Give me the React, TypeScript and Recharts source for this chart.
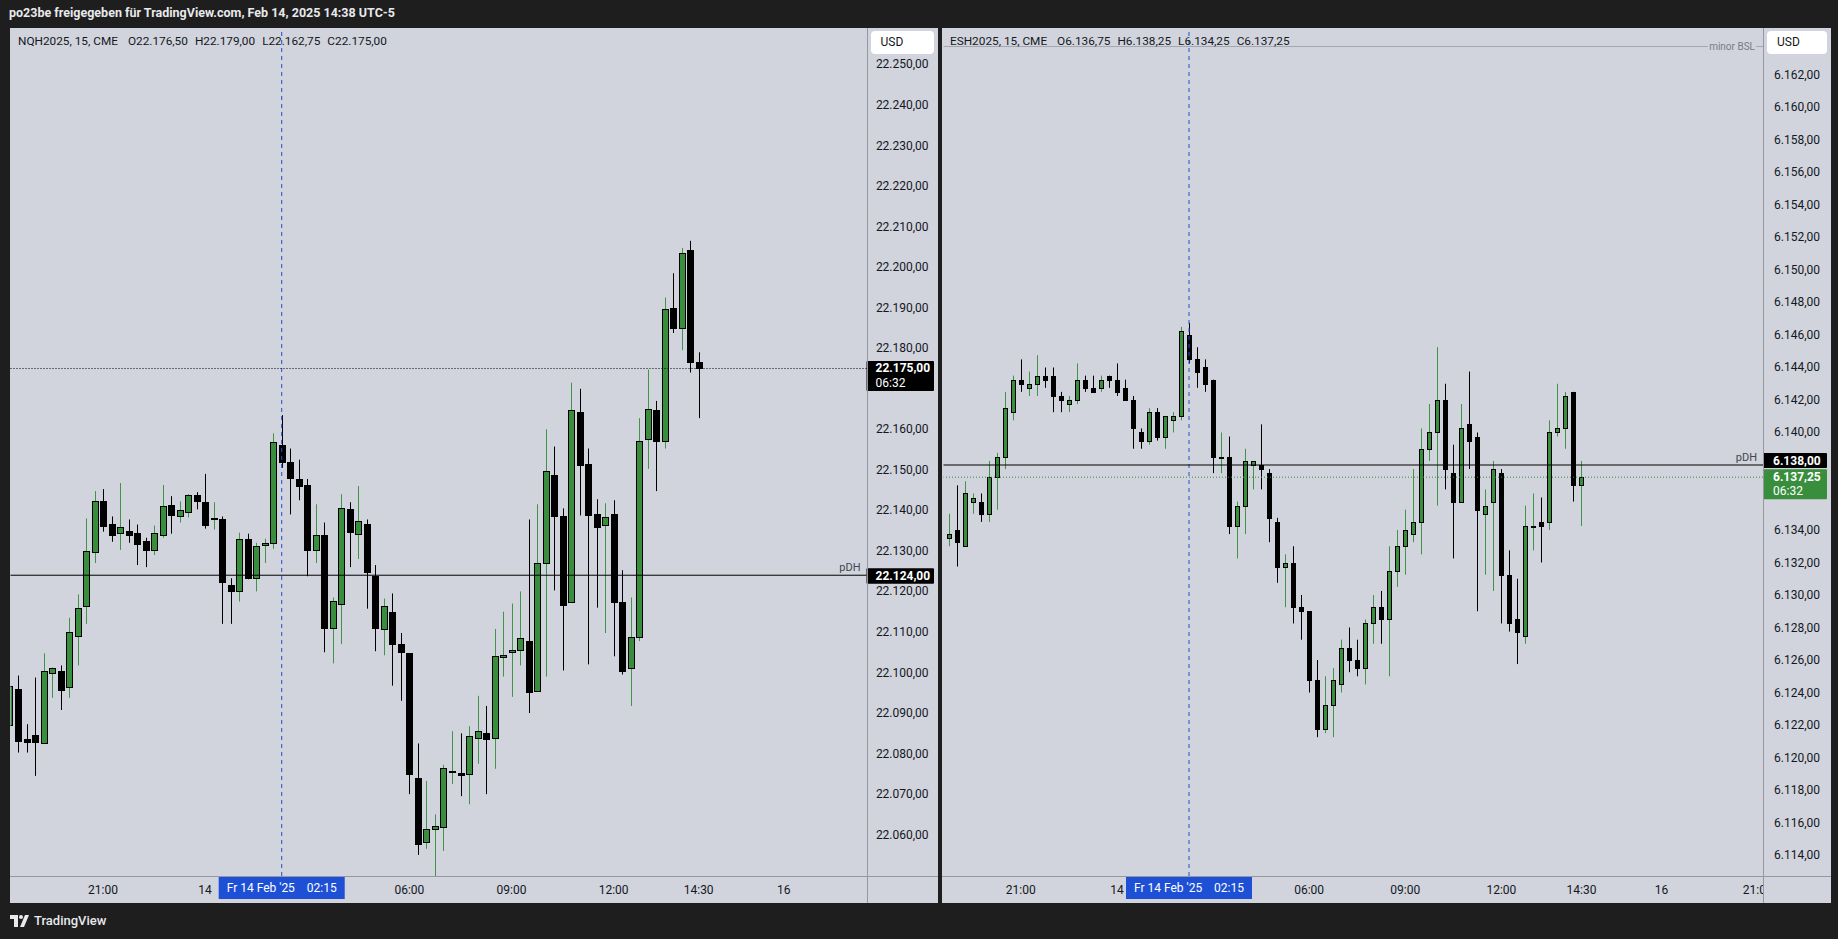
import React from "react";
import { ComposedChart, Bar, XAxis, YAxis, ReferenceLine } from "recharts";

// NQH2025 15m, first bar is 18:15 (cut off at left edge)
const nqFirstSlot = -1;
const nqOpen = [
  22087, 22096, 22083.5, 22084.5, 22082.5, 22100, 22100.25, 22096.5, 22109, 22116.5,
  22129.75, 22142.25, 22136.75, 22134.5, 22135, 22134.5, 22132.5, 22130.25, 22134, 22141.25,
  22138.5, 22139.5, 22143.75, 22142, 22137.75, 22137.75, 22121.5, 22120, 22133, 22123.25,
  22131.5, 22132, 22156.25, 22152, 22147.75, 22146.25, 22130.25, 22134, 22111, 22117,
  22140.25, 22134.25, 22136.75, 22123.75, 22110.75, 22115, 22107, 22104.75, 22074, 22058.25,
  22061.5, 22062, 22075.5, 22075.25, 22075, 22083.75, 22085, 22083.75, 22103.75, 22105,
  22105.5, 22107.75, 22095.5, 22127, 22148.75, 22138.5, 22117.5, 22164.25, 22151.5, 22139,
  22136.5, 22139, 22117.5, 22101, 22108.75, 22157.5, 22164.75, 22157, 22190, 22185,
  22204.25, 22176.5,
];
const nqHigh = [
  22103, 22099.25, 22087.25, 22098.75, 22104.75, 22101.25, 22101.75, 22113.5, 22119.25, 22138,
  22144.75, 22145.25, 22138.5, 22146.75, 22137.75, 22136.5, 22133.25, 22136.25, 22146.25, 22143.5,
  22142.25, 22144, 22144.5, 22149, 22142, 22138.5, 22123.25, 22134.5, 22134.25, 22132,
  22133, 22159, 22163.5, 22155.25, 22152.5, 22147.75, 22141.5, 22137, 22118.5, 22144,
  22142, 22146, 22137.75, 22126.5, 22118.25, 22119.5, 22109.75, 22104.75, 22082.5, 22073.25,
  22065, 22077.25, 22085.5, 22085, 22086.75, 22094.25, 22091.75, 22110.75, 22115, 22117,
  22120, 22137.75, 22141.5, 22160, 22155.75, 22140.5, 22171.5, 22170, 22155.25, 22142.75,
  22141.75, 22142.5, 22125.25, 22118.5, 22162.75, 22174.75, 22167, 22192.5, 22198.5, 22204.75,
  22206.5, 22179,
];
const nqLow = [
  22082.25, 22080.25, 22080.25, 22074.5, 22082.5, 22093.75, 22090.75, 22093.75, 22101.75, 22112,
  22127, 22134.75, 22132.25, 22130.25, 22132, 22126.5, 22126, 22129, 22133.25, 22134.25,
  22137, 22138.25, 22140.25, 22135.5, 22135.25, 22112, 22112, 22117.5, 22123, 22120,
  22127, 22130.5, 22150.5, 22139, 22142.5, 22123.75, 22127, 22105, 22102.25, 22107,
  22126, 22128, 22115.75, 22105.25, 22104.25, 22096.75, 22093, 22070, 22055, 22056.5,
  22049.5, 22056, 22072.5, 22069.5, 22067.5, 22077.5, 22070, 22076.25, 22099, 22094,
  22101.75, 22090, 22095.5, 22099, 22120.25, 22100.5, 22117.5, 22138.75, 22102, 22116,
  22109.75, 22104, 22099.5, 22091.75, 22107.75, 22150.25, 22144.75, 22155.25, 22183.75, 22179.5,
  22174, 22162.75,
];
const nqClose = [
  22096.75, 22083, 22082.75, 22082.75, 22100.25, 22101, 22095.75, 22110, 22116, 22130,
  22142.25, 22136.25, 22134, 22136, 22134, 22131.75, 22130.25, 22134.5, 22141, 22138.75,
  22140, 22143.75, 22142.25, 22136.5, 22138, 22122.25, 22120, 22133, 22123.25, 22131.25,
  22132, 22156.75, 22152, 22148, 22146, 22130.25, 22134, 22111, 22117.75, 22140.5,
  22134.75, 22137.5, 22124.75, 22111, 22116.5, 22107, 22105, 22075, 22057.75, 22061.5,
  22062.25, 22076.5, 22075.75, 22074.75, 22084.25, 22085.5, 22083.5, 22104, 22104.25, 22105.5,
  22108.5, 22095.25, 22127, 22149.75, 22138.5, 22116.75, 22164.75, 22151.25, 22138.75, 22136,
  22138.25, 22117.5, 22100.25, 22108.75, 22157, 22165, 22157, 22189.75, 22185, 22203.5,
  22176.5, 22175,
];

// ESH2025 15m, first bar is 18:30 (cut off at left edge)
const esFirstSlot = 0;
const esOpen = [
  6136, 6133.5, 6134, 6133, 6135.75, 6135.75, 6135, 6137.25, 6138.5, 6141.25,
  6143.25, 6142.75, 6143, 6143.5, 6143.5, 6142.25, 6141.75, 6142, 6143.25, 6142.75,
  6142.75, 6143.5, 6143.25, 6142.75, 6142, 6140, 6139.5, 6141.25, 6139.75, 6140.75,
  6141, 6146, 6144.5, 6144, 6143.25, 6138.5, 6138.5, 6134.25, 6135.5, 6138,
  6138, 6137.5, 6134.5, 6131.75, 6132, 6129.25, 6129, 6124.75, 6121.75, 6123.25,
  6124.5, 6126.75, 6126, 6125.5, 6128.25, 6129.25, 6128.5, 6131.5, 6133, 6133.75,
  6134.5, 6139, 6140, 6142, 6137.5, 6135.75, 6140.5, 6139.75, 6135, 6135.75,
  6137.5, 6131.25, 6128.5, 6127.5, 6134.25, 6134.5, 6134.5, 6140, 6140.25, 6142.5,
  6136.75,
];
const esHigh = [
  6136.5, 6135, 6136.75, 6137, 6136.25, 6136.25, 6138.25, 6138.75, 6142.5, 6143.5,
  6144.5, 6143.75, 6144.75, 6144, 6144, 6142.5, 6142.25, 6144.25, 6143.5, 6143.5,
  6143.5, 6143.5, 6144.25, 6143.25, 6142.25, 6140.25, 6141.5, 6141.5, 6141, 6141.25,
  6146.5, 6146.75, 6145.25, 6144.5, 6143.25, 6140, 6139.75, 6135.75, 6139, 6138.25,
  6140.5, 6137.75, 6134.75, 6132.5, 6133, 6130, 6129, 6126, 6125, 6125.5,
  6127.25, 6128, 6127.25, 6128.5, 6130, 6130.25, 6133, 6134, 6135.25, 6137.75,
  6140.25, 6141.75, 6145.25, 6143, 6139.25, 6141.75, 6143.75, 6140, 6136.5, 6138.25,
  6137.75, 6132.75, 6131, 6135.5, 6136.25, 6136, 6140.75, 6143, 6142.5, 6142.5,
  6138.25,
];
const esLow = [
  6133.25, 6133, 6131.75, 6133, 6135, 6134.5, 6134.5, 6135.25, 6137.75, 6140.75,
  6142.5, 6142.25, 6142.25, 6142.75, 6141.25, 6141.25, 6141.25, 6141.75, 6142.5, 6142.5,
  6142.5, 6142.75, 6142.25, 6142, 6139, 6139, 6139.25, 6139.5, 6139, 6140,
  6140.75, 6144.25, 6142.75, 6142.5, 6137.5, 6137.5, 6133.75, 6132.25, 6133.75, 6136.5,
  6136.5, 6133.25, 6130.75, 6129.25, 6128.25, 6127.25, 6124, 6121.25, 6121.5, 6121.25,
  6124, 6125.25, 6125, 6124.5, 6127, 6127, 6125, 6130.5, 6131.25, 6133.25,
  6132.5, 6138.25, 6135.5, 6136.5, 6132.25, 6135.75, 6137.75, 6129, 6131.25, 6130.25,
  6128.25, 6127.75, 6125.75, 6127, 6132.75, 6132, 6134, 6139.75, 6139, 6135.75,
  6134.25,
];
const esClose = [
  6133.75, 6133.75, 6133.25, 6136.25, 6136, 6135, 6137.25, 6138.5, 6141.5, 6143.25,
  6143, 6143, 6143.5, 6143.25, 6142.25, 6142, 6142, 6143.25, 6142.75, 6142.5,
  6143.25, 6143.25, 6142.5, 6142, 6140.25, 6139.5, 6141.25, 6139.75, 6141, 6141,
  6146.25, 6144.5, 6143.75, 6143, 6138.5, 6138.5, 6134.25, 6135.5, 6138.25, 6138.25,
  6137.75, 6134.75, 6131.75, 6132, 6129.25, 6129, 6124.75, 6121.75, 6123.25, 6124.75,
  6126.75, 6126, 6125.5, 6128.25, 6129.25, 6128.5, 6131.5, 6133, 6134, 6134.5,
  6139, 6140, 6142, 6137.75, 6135.75, 6140.25, 6139.5, 6135.25, 6135.5, 6137.75,
  6131.25, 6128.25, 6127.75, 6134.25, 6134.25, 6134.25, 6140, 6140.25, 6142.25, 6136.75,
  6137.25,
];

// bar slots: 0 = 18:30 on Feb 13, one slot per 15 minutes
const timeSlots = [10, 22, 46, 58, 70, 80, 90, 102];
const timeLabels = ["21:00", "14", "06:00", "09:00", "12:00", "14:30", "16", "21:00"];
const crosshairSlot = 31;
const crosshairDate = "Fr 14 Feb '25";
const crosshairTime = "02:15";

const nqPriceTicks = [
  22060, 22070, 22080, 22090, 22100, 22110, 22120, 22130, 22140, 22150,
  22160, 22180, 22190, 22200, 22210, 22220, 22230, 22240, 22250,
];
const esPriceTicks = [
  6114, 6116, 6118, 6120, 6122, 6124, 6126, 6128, 6130, 6132, 6134,
  6140, 6142, 6144, 6146, 6148, 6150, 6152, 6154, 6156, 6158, 6160, 6162,
];

const nqPrevDayHigh = 22124;
const esPrevDayHigh = 6138;
const esMinorBsl = 6163.75;
const barCountdown = "06:32";

const PANEL_BG = "#d1d4dc";
const BODY_UP = "#388e3c";
const WICK_UP = "#3f9445";
const MARK_BLUE = "#1e50d6";
const AXIS_LINE = "#9598a1";
const TEXT = "#131722";
const FONT = "Roboto, 'Liberation Sans', sans-serif";

type Row = { slot: number; open: number; high: number; low: number; close: number };

function buildRows(first: number, o: number[], h: number[], l: number[], c: number[]): Row[] {
  return o.map((v, k) => ({ slot: first + k, open: v, high: h[k], low: l[k], close: c[k] }));
}

const nqRows = buildRows(nqFirstSlot, nqOpen, nqHigh, nqLow, nqClose);
const esRows = buildRows(esFirstSlot, esOpen, esHigh, esLow, esClose);

function fmtPrice(v: number) {
  const [int, dec] = v.toFixed(2).split(".");
  return int.replace(/\B(?=(\d{3})+(?!\d))/g, ".") + "," + dec;
}

function Candle(props: any) {
  const { x, y, width, height, payload, half } = props;
  if (!payload || x == null || y == null) return null;
  let top = y;
  let h = height;
  if (h < 0) {
    top = y + h;
    h = -h;
  }
  const { open, high, low, close } = payload;
  const span = high - low;
  const py = (v: number) => (span > 0 ? top + ((high - v) / span) * h : top);
  const c = Math.round(x + width / 2);
  const up = close >= open;
  const yo = py(open);
  const yc = py(close);
  const bTop = Math.round(Math.min(yo, yc)) + 0.5;
  const bBot = Math.max(Math.round(Math.max(yo, yc)) + 0.5, bTop + 1);
  return (
    <g>
      <line x1={c + 0.5} x2={c + 0.5} y1={top} y2={top + h} stroke={up ? WICK_UP : "#000"} strokeWidth={1} />
      <rect
        x={c - half + 0.5}
        y={bTop}
        width={half * 2}
        height={bBot - bTop}
        fill={up ? BODY_UP : "#000"}
        stroke="#000"
        strokeWidth={1}
      />
    </g>
  );
}

function TimeTick(props: any) {
  const { x, y, payload, clipRight, uid } = props;
  const v = payload.value;
  if (v === crosshairSlot) {
    return (
      <g>
        <rect x={x - 63} y={y} width={126} height={23} fill={MARK_BLUE} />
        <text x={x - 55} y={y + 12} dominantBaseline="central" fontSize={12} fill="#fff" fontFamily={FONT}>
          {crosshairDate}
        </text>
        <text x={x + 55} y={y + 12} textAnchor="end" dominantBaseline="central" fontSize={12} fill="#fff" fontFamily={FONT}>
          {crosshairTime}
        </text>
      </g>
    );
  }
  const idx = timeSlots.indexOf(v);
  const id = `tclip-${uid}-${v}`;
  return (
    <g>
      <defs>
        <clipPath id={id}>
          <rect x={0} y={y} width={clipRight} height={30} />
        </clipPath>
      </defs>
      <text
        x={x}
        y={y + 14}
        textAnchor="middle"
        dominantBaseline="central"
        fontSize={12}
        fill={TEXT}
        fontFamily={FONT}
        clipPath={`url(#${id})`}
      >
        {timeLabels[idx]}
      </text>
    </g>
  );
}

function PriceTick(props: any) {
  const { x, y, payload, axisW } = props;
  return (
    <text
      x={x + axisW / 2}
      y={y}
      textAnchor="middle"
      dominantBaseline="central"
      fontSize={12}
      fill={TEXT}
      fontFamily={FONT}
    >
      {fmtPrice(payload.value)}
    </text>
  );
}

function PriceTag(props: any) {
  const { viewBox, axisW, pad, rows, bg, dy, h, note } = props;
  if (!viewBox) return null;
  const y = viewBox.y + (viewBox.height || 0) / 2;
  const x0 = viewBox.x + viewBox.width;
  return (
    <g fontFamily={FONT}>
      {note ? (
        <text x={x0 - 6} y={y - 8} textAnchor="end" dominantBaseline="central" fontSize={11} fill="#434651">
          {note}
        </text>
      ) : null}
      <rect x={x0} y={y + dy} width={axisW - 4} height={h} fill={bg} rx={1} />
      {rows.map((r: string, k: number) => (
        <text
          key={k}
          x={x0 + pad}
          y={y + dy + 7.5 + k * 14.5}
          dominantBaseline="central"
          fontSize={12}
          fontWeight={k === 0 ? 700 : 400}
          fill="#fff"
        >
          {r}
        </text>
      ))}
    </g>
  );
}

function BslTag(props: any) {
  const { viewBox } = props;
  if (!viewBox) return null;
  const y = viewBox.y + (viewBox.height || 0) / 2;
  const x1 = viewBox.x + viewBox.width;
  return (
    <g fontFamily={FONT}>
      <rect x={x1 - 55} y={y - 6} width={48} height={12} fill={PANEL_BG} />
      <text x={x1 - 8} y={y} textAnchor="end" dominantBaseline="central" fontSize={10} fill="#787b86">
        minor BSL
      </text>
    </g>
  );
}

type PanelProps = {
  uid: string;
  left: number;
  width: number;
  axisW: number;
  marginLeft: number;
  rows: Row[];
  xDomain: [number, number];
  yDomain: [number, number];
  priceTicks: number[];
  slots: number[];
  half: number;
  header: string[];
  children?: React.ReactNode;
};

const PANEL_TOP = 28;
const PANEL_H = 875;
const TIME_H = 27;

function Panel(p: PanelProps) {
  const plotRight = p.width - p.axisW;
  return (
    <div
      style={{
        position: "absolute",
        left: p.left,
        top: PANEL_TOP,
        width: p.width,
        height: PANEL_H,
        background: PANEL_BG,
        overflow: "hidden",
      }}
    >
      <ComposedChart
        width={p.width}
        height={PANEL_H}
        data={p.rows}
        margin={{ top: 0, right: 0, bottom: 0, left: p.marginLeft }}
      >
        <XAxis
          type="number"
          dataKey="slot"
          domain={p.xDomain}
          allowDataOverflow
          ticks={p.slots}
          interval={0}
          height={TIME_H}
          tickLine={false}
          axisLine={false}
          tickSize={0}
          tickMargin={0}
          tick={<TimeTick clipRight={plotRight} uid={p.uid} />}
        />
        <YAxis
          orientation="right"
          type="number"
          domain={p.yDomain}
          allowDataOverflow
          ticks={p.priceTicks}
          interval={0}
          width={p.axisW}
          tickLine={false}
          axisLine={false}
          tickSize={0}
          tickMargin={0}
          tick={<PriceTick axisW={p.axisW} />}
        />
        <ReferenceLine x={crosshairSlot} stroke={MARK_BLUE} strokeDasharray="4 4" strokeWidth={1} />
        {p.children}
        <Bar
          dataKey={(d: Row) => [d.low, d.high]}
          isAnimationActive={false}
          shape={(s: any) => <Candle {...s} half={p.half} />}
        />
      </ComposedChart>
      <div style={{ position: "absolute", left: plotRight, top: 0, width: 1, height: PANEL_H, background: AXIS_LINE }} />
      <div
        style={{ position: "absolute", left: 0, top: PANEL_H - TIME_H, width: p.width, height: 1, background: AXIS_LINE }}
      />
      <div
        style={{
          position: "absolute",
          left: 8,
          top: 6,
          fontFamily: FONT,
          fontSize: 11.8,
          color: TEXT,
          whiteSpace: "pre",
          display: "flex",
          gap: 7,
        }}
      >
        {p.header.map((t, k) => (
          <span key={k} style={{ marginLeft: k === 1 ? 3 : 0 }}>
            {t}
          </span>
        ))}
      </div>
      <div
        style={{
          position: "absolute",
          left: plotRight + 4,
          top: 3,
          width: p.axisW - 8,
          height: 23,
          background: "#fff",
          borderRadius: 4,
          fontFamily: FONT,
          fontSize: 12,
          color: TEXT,
          lineHeight: "23px",
          paddingLeft: 10,
          boxSizing: "border-box",
        }}
      >
        USD
      </div>
    </div>
  );
}

export default function App() {
  return (
    <div
      style={{
        position: "fixed",
        left: 0,
        top: 0,
        width: 1838,
        height: 939,
        background: "#1e1e1e",
        overflow: "hidden",
      }}
    >
      <div
        style={{
          position: "absolute",
          left: 9,
          top: 5,
          fontFamily: FONT,
          fontSize: 12.5,
          fontWeight: 700,
          color: "#e8e9ec",
        }}
      >
        po23be freigegeben für TradingView.com, Feb 14, 2025 14:38 UTC-5
      </div>

      <Panel
        uid="nq"
        left={10}
        width={928}
        axisW={71.5}
        marginLeft={0.5}
        rows={nqRows}
        xDomain={[-0.87, 99.72]}
        yDomain={[22049.8, 22259.0]}
        priceTicks={nqPriceTicks}
        slots={[...timeSlots.slice(0, 7), crosshairSlot].sort((a, b) => a - b)}
        half={3}
        header={["NQH2025, 15, CME", "O22.176,50", "H22.179,00", "L22.162,75", "C22.175,00"]}
      >
        <ReferenceLine
          y={nqPrevDayHigh}
          stroke="#000"
          strokeWidth={1}
          label={(lp: any) => (
            <PriceTag {...lp} axisW={71.5} pad={9} rows={[fmtPrice(nqPrevDayHigh)]} bg="#000" dy={-7} h={15.5} note="pDH" />
          )}
        />
        <ReferenceLine
          y={nqClose[nqClose.length - 1]}
          stroke="#000"
          strokeDasharray="1 2"
          strokeWidth={1}
          label={(lp: any) => (
            <PriceTag
              {...lp}
              axisW={71.5}
              pad={9}
              rows={[fmtPrice(nqClose[nqClose.length - 1]), barCountdown]}
              bg="#000"
              dy={-7.5}
              h={30}
            />
          )}
        />
      </Panel>

      <Panel
        uid="es"
        left={942}
        width={889}
        axisW={68}
        marginLeft={1.5}
        rows={esRows}
        xDomain={[0.35, 102.66]}
        yDomain={[6112.71, 6164.89]}
        priceTicks={esPriceTicks}
        slots={[...timeSlots, crosshairSlot].sort((a, b) => a - b)}
        half={2}
        header={["ESH2025, 15, CME", "O6.136,75", "H6.138,25", "L6.134,25", "C6.137,25"]}
      >
        <ReferenceLine
          y={esMinorBsl}
          stroke="#a3a6af"
          strokeWidth={1}
          label={(lp: any) => <BslTag {...lp} />}
        />
        <ReferenceLine
          y={esPrevDayHigh}
          stroke="#000"
          strokeWidth={1}
          label={(lp: any) => (
            <PriceTag {...lp} axisW={68} pad={10} rows={[fmtPrice(esPrevDayHigh)]} bg="#000" dy={-12} h={15} note="pDH" />
          )}
        />
        <ReferenceLine
          y={esClose[esClose.length - 1]}
          stroke={BODY_UP}
          strokeDasharray="1 2"
          strokeWidth={1}
          label={(lp: any) => (
            <PriceTag
              {...lp}
              axisW={68}
              pad={10}
              rows={[fmtPrice(esClose[esClose.length - 1]), barCountdown]}
              bg={BODY_UP}
              dy={-8}
              h={30}
            />
          )}
        />
      </Panel>

      <div style={{ position: "absolute", left: 10, top: 913, display: "flex", alignItems: "center", gap: 5 }}>
        <svg width={19} height={14} viewBox="0 0 19 14">
          <rect x={0} y={1} width={8} height={4} fill="#e8e9ec" />
          <rect x={4} y={1} width={4} height={12} fill="#e8e9ec" />
          <circle cx={11} cy={3} r={2} fill="#e8e9ec" />
          <path d="M15 1 H19 L14 13 H10 Z" fill="#e8e9ec" />
        </svg>
        <span style={{ fontFamily: FONT, fontSize: 13, fontWeight: 500, color: "#e8e9ec" }}>TradingView</span>
      </div>
    </div>
  );
}
